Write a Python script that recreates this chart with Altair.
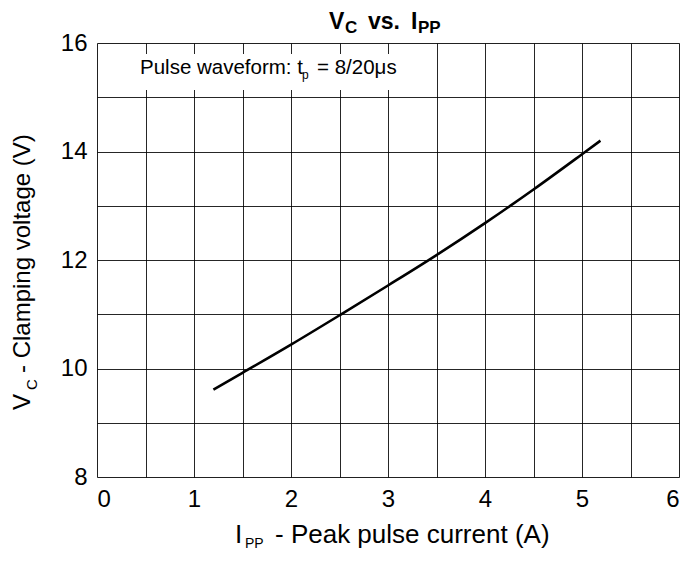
import altair as alt
import pandas as pd

# Curve data
ipp = [1.2, 1.5, 2.0, 2.5, 3.0, 3.5, 4.0, 4.5, 5.0, 5.19]
vc = [9.61, 9.92, 10.44, 10.98, 11.53, 12.09, 12.68, 13.30, 13.95, 14.2]

x_ticks = [0, 0.5, 1, 1.5, 2, 2.5, 3, 3.5, 4, 4.5, 5, 5.5, 6]
y_ticks = [8, 9, 10, 11, 12, 13, 14, 15, 16]

title_main = "V"
title_sub1 = "C"
title_mid = "vs."
title_i = "I"
title_sub2 = "PP"
xt_main = "I"
xt_sub = "PP"
xt_rest = "- Peak pulse current (A)"
yt_main = "V"
yt_sub = "C"
yt_rest = "- Clamping voltage (V)"
note_main = "Pulse waveform: t"
note_sub = "p"
note_rest = "= 8/20\u03bcs"

FONT = "Liberation Sans"
W, H = 582, 434

df = pd.DataFrame({"ipp": ipp, "vc": vc})

line = alt.Chart(df).mark_line(color="black", strokeWidth=2.6, interpolate="monotone").encode(
    x=alt.X("ipp:Q", scale=alt.Scale(domain=[0, 6], nice=False, zero=False),
            axis=alt.Axis(values=x_ticks, title=None, grid=True, ticks=False, tickSize=0, domain=False,
                          labelExpr="datum.value % 1 === 0 ? format(datum.value, 'd') : ''",
                          labelFontSize=24, labelFont=FONT, labelColor="black", labelPadding=10,
                          gridColor="black", gridWidth=1, gridOpacity=0.85)),
    y=alt.Y("vc:Q", scale=alt.Scale(domain=[8, 16], nice=False, zero=False),
            axis=alt.Axis(values=y_ticks, title=None, grid=True, ticks=False, tickSize=0, domain=False,
                          labelExpr="datum.value % 2 === 0 ? format(datum.value, 'd') : ''",
                          labelFontSize=24, labelFont=FONT, labelColor="black", labelPadding=10,
                          gridColor="black", gridWidth=1, gridOpacity=0.85)),
)

one = pd.DataFrame({"k": [0]})

box = alt.Chart(one).mark_rect(color="white").encode(
    x=alt.value(1.5), x2=alt.value(303), y=alt.value(11), y2=alt.value(47)
)


def txt(s, x, y, size, bold=False, angle=0):
    return alt.Chart(pd.DataFrame({"t": [s]})).mark_text(
        font=FONT, fontSize=size, fontWeight="bold" if bold else "normal",
        align="left", baseline="alphabetic", color="black", angle=angle
    ).encode(text="t:N", x=alt.value(x), y=alt.value(y))


texts = [
    # title
    txt(title_main, 232, -14, 23, True),
    txt(title_sub1, 248, -10, 17, True),
    txt(title_mid, 271, -14, 23, True),
    txt(title_i, 314, -14, 23, True),
    txt(title_sub2, 321, -10, 17, True),
    # x title
    txt(xt_main, 138, 500, 26),
    txt(xt_sub, 148, 505, 14),
    txt(xt_rest, 178, 500, 26),
    # y title
    txt(yt_main, -67, 367, 24, angle=270),
    txt(yt_sub, -60, 347, 15, angle=270),
    txt(yt_rest, -67, 330, 24, angle=270),
    # note
    txt(note_main, 43, 31, 20.5),
    txt(note_sub, 205, 36, 12),
    txt(note_rest, 220, 31, 20.5),
]

chart = alt.layer(box, line, *texts).properties(
    width=W, height=H,
    autosize=alt.AutoSizeParams(type="none"),
    padding={"left": 89, "top": 35, "right": 1, "bottom": 76},
).configure_view(stroke="black", strokeWidth=2.6).configure(background="white")

chart.save("out.html", embed_options={"renderer": "svg", "actions": False})
